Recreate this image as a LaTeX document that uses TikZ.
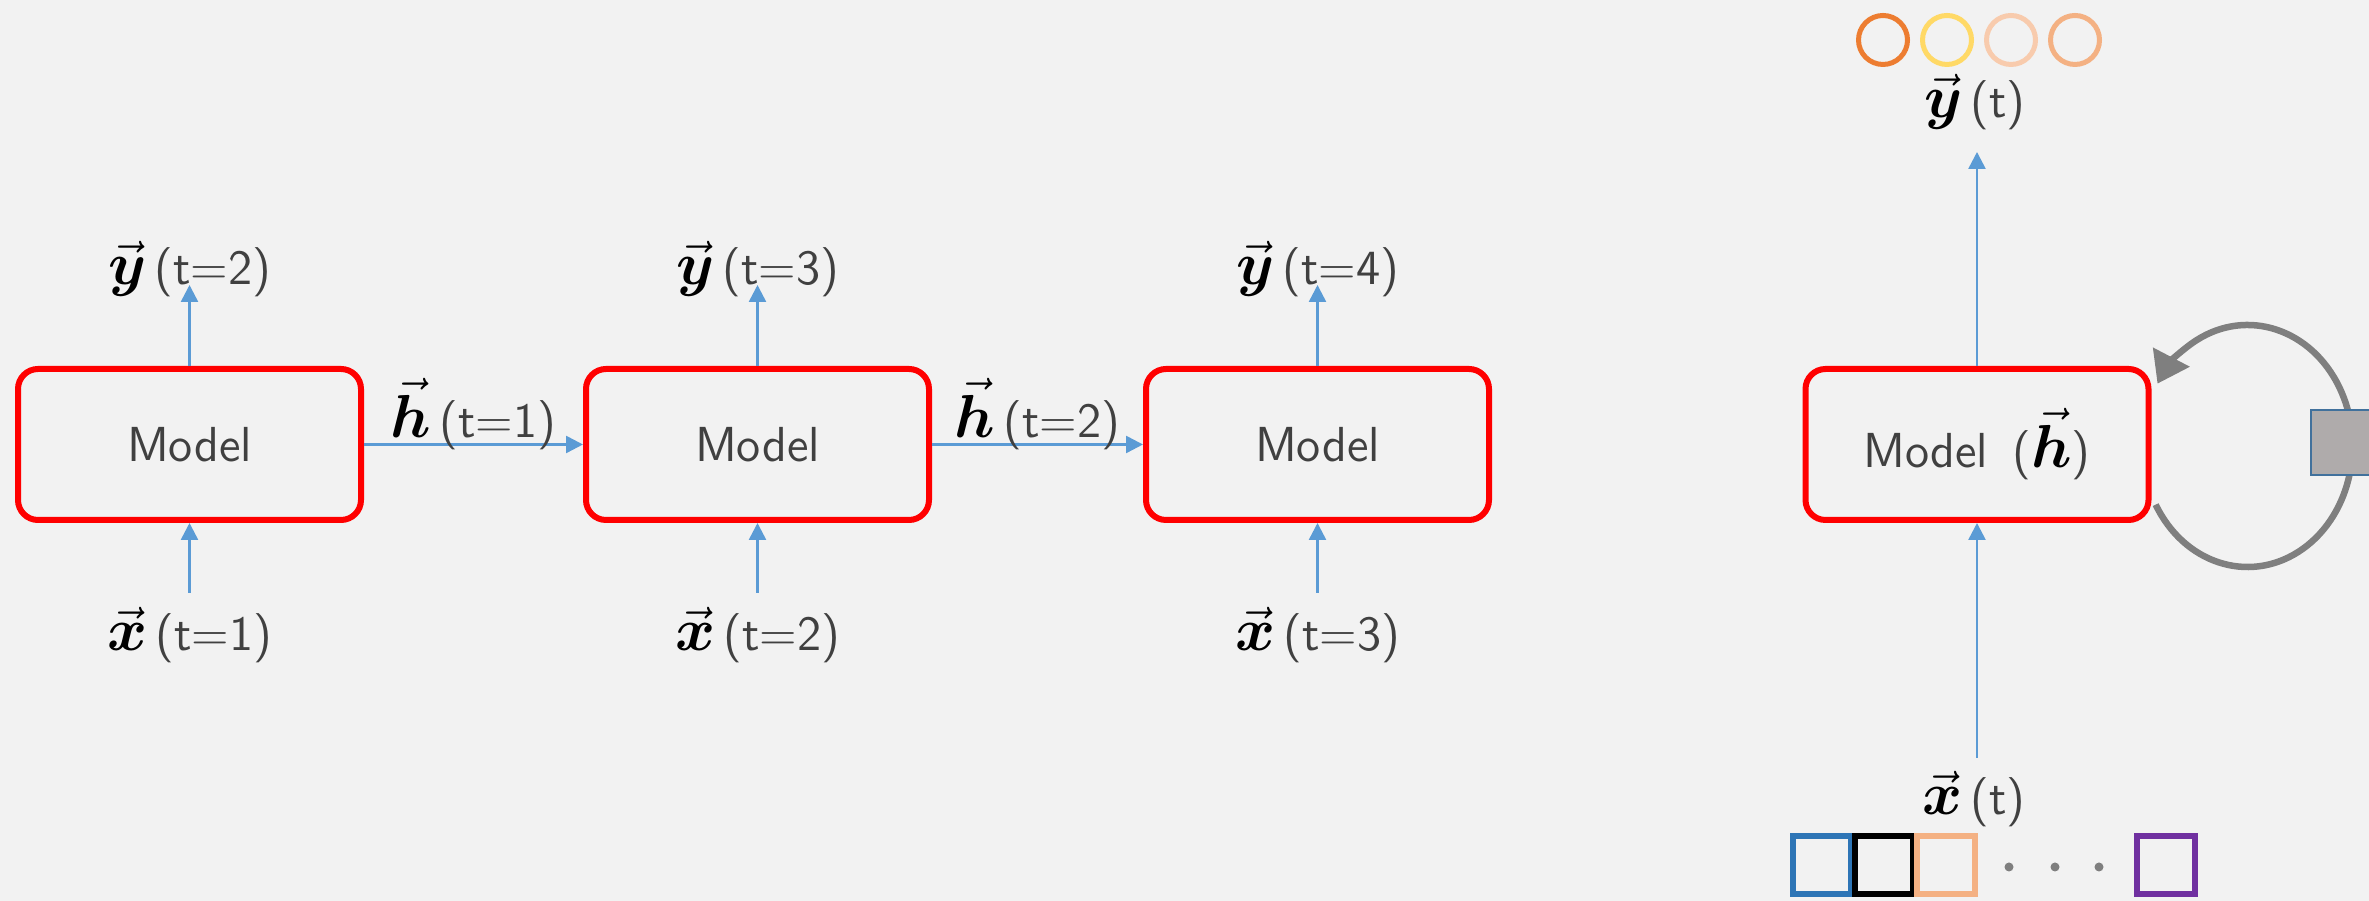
\documentclass[tikz,border=0pt]{standalone}
\usepackage{amsmath}
\usetikzlibrary{arrows.meta,calc}
\definecolor{paper}{HTML}{F2F2F2}
\definecolor{wirecol}{HTML}{5B9BD5}
\definecolor{txtcol}{HTML}{404040}
\definecolor{loopcol}{HTML}{7F7F7F}
\definecolor{gatecol}{HTML}{AFABAB}
\definecolor{gateline}{HTML}{41719C}
\definecolor{outa}{HTML}{ED7D31}
\definecolor{outb}{HTML}{FFD966}
\definecolor{outc}{HTML}{F8CBAD}
\definecolor{outd}{HTML}{F4B183}
\definecolor{ina}{HTML}{2E75B6}
\definecolor{inc}{HTML}{F4B183}
\definecolor{ind}{HTML}{7030A0}
% vector symbol, a bit larger than the text around it
\newcommand{\vlab}[1]{{\color{black}\fontsize{17}{19}\selectfont$\vec{\boldsymbol{#1}}$}}

\begin{document}
\begin{tikzpicture}[
    model/.style={draw=red,line width=0.06cm,rounded corners=0.2cm,minimum width=3.43cm,minimum height=1.51cm,
        text=txtcol,font=\sffamily\fontsize{14}{16}\selectfont},
    lab/.style={text=txtcol,font=\sffamily\fontsize{14}{16}\selectfont,inner sep=2pt},
    wire/.style={wirecol,line width=0.025cm,-{Triangle[length=0.17cm,width=0.17cm]}},
    cell/.style={draw=#1,line width=0.06cm,minimum size=0.58cm,inner sep=0pt}]
    \fill[paper] (0,0) rectangle (23.69,9.01);
    \clip (0,0) rectangle (23.69,9.01);

    % unrolled chain
    \node[model] (m1) at (1.895,4.565) {Model};
    \node[model] (m2) at (7.575,4.565) {Model};
    \node[model] (m3) at (13.175,4.565) {Model};
    \foreach \i/\yt/\xt in {1/2/1,2/3/2,3/4/3} {
        \node[lab,anchor=base] (y\i) at ($(m\i.north)+(0,0.81)$) {\vlab{y}\,(t=\yt)};
        \node[lab,anchor=base] (x\i) at ($(m\i.south)+(0,-1.28)$) {\vlab{x}\,(t=\xt)};
        \draw[wire] (m\i.north) -- (m\i.north |- y\i.base);
        \draw[wire] ($(m\i.south |- x\i.base)+(0,0.58)$) -- (m\i.south);
    }
    \draw[wire] (m1.east) -- (m2.west) node[lab,midway,anchor=base,yshift=0.07cm] (h1) {\vlab{h}\,(t=1)};
    \draw[wire] (m2.east) -- (m3.west) node[lab,midway,anchor=base,yshift=0.07cm] (h2) {\vlab{h}\,(t=2)};

    % folded model
    \node[model] (m4) at (19.77,4.565) {Model\enspace(\vlab{h})};
    \node[lab,anchor=base] (y4) at (19.75,7.83) {\vlab{y}\,(t)};
    \node[lab,anchor=base] (x4) at (19.74,0.86) {\vlab{x}\,(t)};
    \draw[wire] (m4.north) -- ($(m4.north |- y4.base)+(0,-0.34)$);
    \draw[wire] ($(m4.south |- x4.base)+(0,0.57)$) -- (m4.south);

    \foreach \c [count=\k] in {outa,outb,outc,outd}
        \node[circle,draw=\c,line width=0.05cm,minimum size=0.49cm,inner sep=0pt] (o\k) at ({18.83+0.64*(\k-1)},8.61) {};

    \node[cell=ina] (c1) at (18.22,0.36) {};
    \node[cell=black] (c2) at (18.84,0.36) {};
    \node[cell=inc] (c3) at (19.46,0.36) {};
    \node[cell=ind] (c4) at (21.66,0.36) {};
    \foreach \d in {20.09,20.55,20.99}
        \fill[loopcol] (\d,0.34) circle (0.045);

    % recurrence
    \coordinate (lc) at ($(m4.east)+(0.96,-0.015)$);
    \draw[loopcol,line width=0.065cm,-{Triangle[length=0.3cm,width=0.4cm]}]
        ($(lc)+(209:1.05 and 1.21)$) arc[start angle=209,end angle=509,x radius=1.05,y radius=1.21];
    \node[draw=gateline,fill=gatecol,line width=0.02cm,minimum width=0.78cm,minimum height=0.65cm] (gate) at (23.50,4.585) {};
\end{tikzpicture}
\end{document}
